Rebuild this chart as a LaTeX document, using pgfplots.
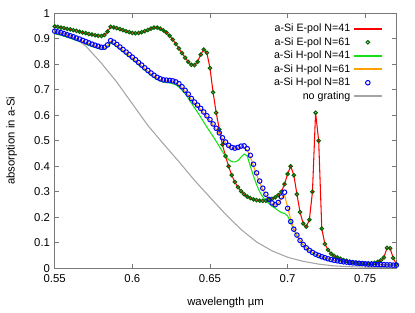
\documentclass[border=0pt]{standalone}
\usepackage{fontspec}
\setmainfont{Liberation Sans}
\usepackage{pgfplots}
\pgfplotsset{compat=1.18}
\usepackage{pgfplotstable}
\definecolor{gpRed}{RGB}{255,0,0}
\definecolor{gpDarkGreen}{RGB}{0,100,0}
\definecolor{gpGreen}{RGB}{20,225,20}
\definecolor{gpOrange}{RGB}{255,160,0}
\definecolor{gpBlue}{RGB}{0,0,255}
\definecolor{gpGray}{RGB}{165,165,165}
\definecolor{gpFrame}{RGB}{120,120,120}

% x  E-pol  H-pol N=81  H-pol N=61  H-pol N=41
\pgfplotstableread{
x     E     Hb    Ho    Hg
0.550 0.949 0.930 0.926 0.920
0.552 0.947 0.927 0.923 0.917
0.554 0.944 0.924 0.920 0.914
0.556 0.942 0.920 0.916 0.910
0.558 0.939 0.916 0.912 0.906
0.560 0.937 0.912 0.908 0.902
0.562 0.934 0.908 0.904 0.898
0.564 0.931 0.903 0.899 0.893
0.566 0.928 0.899 0.895 0.889
0.568 0.925 0.894 0.890 0.884
0.570 0.922 0.889 0.885 0.879
0.572 0.919 0.884 0.880 0.874
0.574 0.917 0.879 0.875 0.870
0.576 0.914 0.875 0.871 0.866
0.578 0.912 0.871 0.867 0.862
0.580 0.911 0.867 0.864 0.859
0.582 0.915 0.867 0.864 0.859
0.584 0.928 0.876 0.873 0.868
0.586 0.947 0.893 0.890 0.884
0.588 0.945 0.887 0.884 0.878
0.590 0.942 0.878 0.875 0.869
0.592 0.938 0.868 0.865 0.859
0.594 0.934 0.858 0.855 0.849
0.596 0.930 0.848 0.845 0.839
0.598 0.926 0.838 0.835 0.829
0.600 0.923 0.828 0.825 0.819
0.602 0.922 0.818 0.815 0.809
0.604 0.923 0.807 0.804 0.798
0.606 0.926 0.797 0.794 0.788
0.608 0.930 0.786 0.783 0.777
0.610 0.935 0.776 0.773 0.767
0.612 0.940 0.766 0.763 0.757
0.614 0.944 0.757 0.754 0.748
0.616 0.944 0.749 0.746 0.740
0.618 0.940 0.743 0.739 0.734
0.620 0.933 0.739 0.735 0.730
0.622 0.924 0.738 0.734 0.728
0.624 0.912 0.737 0.733 0.727
0.626 0.897 0.735 0.731 0.724
0.628 0.880 0.731 0.727 0.719
0.630 0.862 0.724 0.720 0.711
0.632 0.844 0.712 0.708 0.699
0.634 0.826 0.698 0.694 0.684
0.636 0.810 0.683 0.679 0.667
0.638 0.798 0.666 0.662 0.648
0.640 0.797 0.652 0.648 0.630
0.642 0.810 0.640 0.636 0.612
0.644 0.838 0.627 0.623 0.593
0.646 0.858 0.613 0.609 0.573
0.648 0.845 0.598 0.594 0.554
0.650 0.785 0.583 0.579 0.535
0.652 0.690 0.566 0.562 0.517
0.654 0.610 0.549 0.545 0.498
0.656 0.545 0.531 0.527 0.478
0.658 0.485 0.512 0.508 0.458
0.660 0.440 0.495 0.491 0.440
0.662 0.400 0.482 0.479 0.426
0.664 0.365 0.474 0.471 0.418
0.666 0.338 0.471 0.468 0.417
0.668 0.318 0.474 0.470 0.422
0.670 0.302 0.479 0.474 0.436
0.672 0.290 0.480 0.474 0.448
0.674 0.281 0.469 0.463 0.440
0.676 0.275 0.443 0.437 0.400
0.678 0.270 0.408 0.402 0.362
0.680 0.267 0.374 0.368 0.328
0.682 0.265 0.342 0.336 0.300
0.684 0.264 0.314 0.308 0.280
0.686 0.265 0.290 0.285 0.265
0.688 0.268 0.270 0.266 0.253
0.690 0.272 0.256 0.252 0.243
0.692 0.278 0.249 0.247 0.235
0.694 0.287 0.258 0.256 0.226
0.696 0.300 0.280 0.275 0.218
0.698 0.330 0.298 0.287 0.215
0.700 0.370 0.235 0.240 0.205
0.702 0.400 0.183 0.190 0.180
0.704 0.365 0.153 0.155 0.150
0.706 0.290 0.130 0.130 0.127
0.708 0.220 0.109 0.109 0.107
0.710 0.175 0.093 0.093 0.091
0.712 0.163 0.080 0.080 0.078
0.714 0.190 0.070 0.070 0.068
0.716 0.300 0.062 0.062 0.060
0.718 0.610 0.055 0.055 0.053
0.720 0.500 0.050 0.050 0.048
0.722 0.155 0.045 0.045 0.044
0.724 0.095 0.041 0.041 0.040
0.726 0.072 0.037 0.037 0.036
0.728 0.057 0.034 0.034 0.033
0.730 0.048 0.031 0.031 0.030
0.732 0.042 0.029 0.029 0.028
0.734 0.037 0.027 0.027 0.026
0.736 0.032 0.025 0.025 0.024
0.738 0.029 0.024 0.024 0.023
0.740 0.026 0.022 0.022 0.021
0.742 0.024 0.021 0.021 0.020
0.744 0.022 0.020 0.020 0.019
0.746 0.021 0.019 0.019 0.018
0.748 0.020 0.018 0.018 0.017
0.750 0.019 0.017 0.017 0.016
0.752 0.019 0.016 0.016 0.016
0.754 0.019 0.016 0.016 0.015
0.756 0.021 0.015 0.015 0.015
0.758 0.025 0.015 0.015 0.014
0.760 0.031 0.014 0.014 0.014
0.762 0.042 0.014 0.014 0.013
0.764 0.080 0.013 0.013 0.013
0.766 0.078 0.013 0.013 0.012
0.768 0.040 0.012 0.012 0.012
0.770 0.016 0.012 0.012 0.011
}\absdata

% bare layer, no grating
\pgfplotstableread{
x    A
0.55 0.930
0.56 0.915
0.57 0.872
0.58 0.805
0.59 0.730
0.60 0.645
0.61 0.560
0.62 0.488
0.63 0.418
0.64 0.345
0.65 0.278
0.66 0.212
0.67 0.152
0.68 0.103
0.69 0.068
0.70 0.043
0.71 0.027
0.72 0.016
0.73 0.009
0.74 0.006
0.75 0.004
0.76 0.003
0.77 0.002
}\nograting

\begin{document}
\begin{tikzpicture}
\begin{axis}[
  scale only axis,
  width=256pt, height=191pt,
  xmin=0.55, xmax=0.77, ymin=0, ymax=1,
  xtick={0.55,0.6,0.65,0.7,0.75},
  ytick={0,0.1,0.2,0.3,0.4,0.5,0.6,0.7,0.8,0.9,1},
  tick align=inside,
  major tick length=3.5pt,
  axis line style={gpFrame, line width=0.6pt},
  tick style={gpFrame, line width=0.5pt},
  tick label style={font=\fontsize{8.5}{10}\selectfont},
  xticklabel style={yshift=-1.5pt},
  /pgf/number format/assume math mode=true,
  label style={font=\fontsize{8.5}{10}\selectfont},
  xlabel={wavelength µm},
  ylabel={absorption in a-Si},
  xlabel style={at={(axis description cs:0.5,-0.133)}, anchor=center},
  ylabel style={at={(axis description cs:-0.126,0.5)}, anchor=center},
  legend plot pos=right,
  legend cell align=right,
  legend style={draw=none, fill=none, font=\fontsize{8}{9.5}\selectfont,
    at={(rel axis cs:0.965,0.975)}, anchor=north east,
    row sep=-1.2pt, inner sep=1pt},
]
\addplot[forget plot, gpRed, line width=0.8pt, mark=none] table[x=x,y=E] {\absdata};
\addplot[forget plot, only marks, mark=o, mark size=1.3pt, gpDarkGreen, line width=0.8pt]
  table[x=x,y=E] {\absdata};
\addplot[forget plot, gpGreen, line width=0.8pt, mark=none] table[x=x,y=Hg] {\absdata};
\addplot[forget plot, gpOrange, line width=0.8pt, mark=none] table[x=x,y=Ho] {\absdata};
\addplot[forget plot, only marks, mark=o, mark size=1.7pt, gpBlue, line width=0.75pt]
  table[x=x,y=Hb] {\absdata};
\addplot[forget plot, gpGray, line width=0.8pt, mark=none] table[x=x,y=A] {\nograting};
% legend samples, drawn a little heavier so that they stay visible
\addlegendimage{legend image code/.code={\draw[gpRed, line width=1.3pt] (0cm,0cm) -- (0.74cm,0cm);}}
\addlegendentry{a-Si E-pol N=41}
\addlegendimage{legend image code/.code={\draw[gpDarkGreen, line width=0.8pt] (0.37cm,0cm) circle (1.3pt);}}
\addlegendentry{a-Si E-pol N=61}
\addlegendimage{legend image code/.code={\draw[gpGreen, line width=1.3pt] (0cm,0cm) -- (0.74cm,0cm);}}
\addlegendentry{a-Si H-pol N=41}
\addlegendimage{legend image code/.code={\draw[gpOrange, line width=1.3pt] (0cm,0.4pt) -- (0.74cm,0.4pt);}}
\addlegendentry{a-Si H-pol N=61}
\addlegendimage{legend image code/.code={\draw[gpBlue, line width=0.75pt] (0.37cm,0cm) circle (1.7pt);}}
\addlegendentry{a-Si H-pol N=81}
\addlegendimage{legend image code/.code={\draw[gpGray, line width=1.3pt] (0cm,0cm) -- (0.74cm,0cm);}}
\addlegendentry{no grating}
\end{axis}
\path ([xshift=-41pt,yshift=-33pt]current axis.south west)
      ([xshift=14pt,yshift=10pt]current axis.north east);
\end{tikzpicture}
\end{document}
